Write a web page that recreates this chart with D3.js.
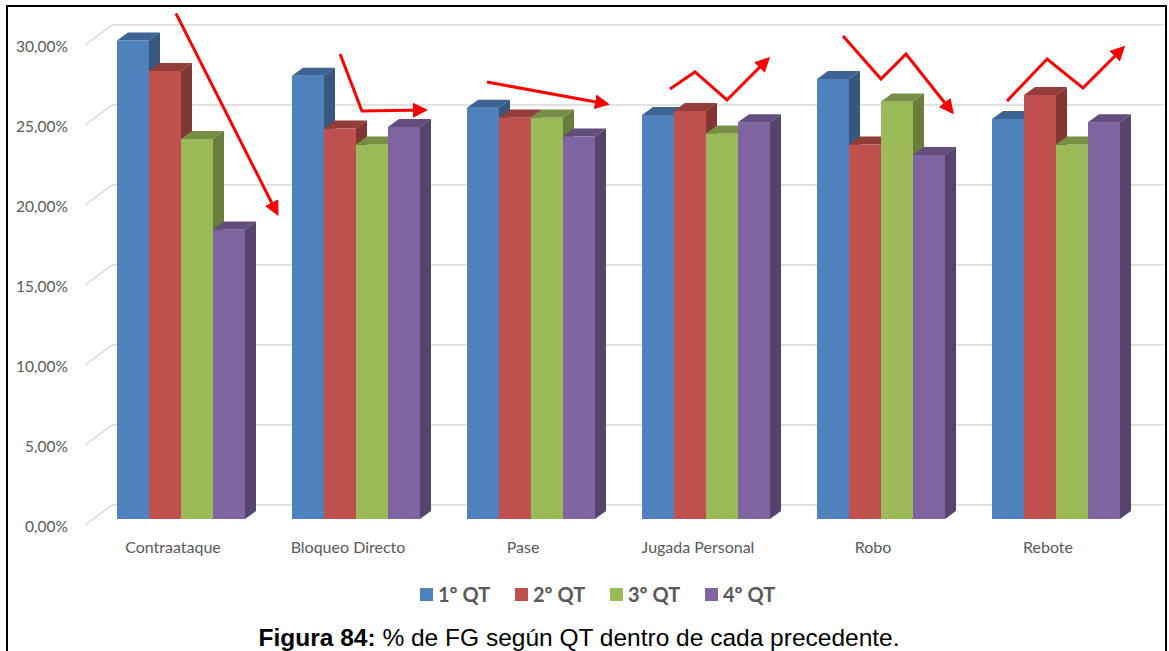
<!DOCTYPE html>
<html><head><meta charset="utf-8">
<script src="https://cdn.jsdelivr.net/npm/d3@7"></script>
<style>body{margin:0;background:#fff}svg{display:block}</style>
</head><body>
<svg id="c" width="1169" height="651"></svg>
<script>
const categories = ["Contraataque","Bloqueo Directo","Pase","Jugada Personal","Robo","Rebote"];
const seriesNames = ["1º QT","2º QT","3º QT","4º QT"];
const q1 = [29.9, 27.7, 25.7, 25.25, 27.5, 25.0];
const q2 = [28.0, 24.4, 25.1, 25.5, 23.4, 26.5];
const q3 = [23.75, 23.4, 25.1, 24.1, 26.1, 23.4];
const q4 = [18.1, 24.5, 23.9, 24.8, 22.75, 24.8];
const yTicks = [0,5,10,15,20,25,30];
const tickLabels = ["0,00%","5,00%","10,00%","15,00%","20,00%","25,00%","30,00%"];
const colors = ["#4f81bd","#c0504d","#9bbb59","#8064a2"];
// annotation arrows: [fraction of category step, value %]
const arrows = [
  {cat:0, pts:[[0.471,31.6],[1.049,19.1]]},
  {cat:1, pts:[[0.409,29.06],[0.534,25.5],[0.894,25.56]]},
  {cat:2, pts:[[0.249,27.31],[0.934,25.94]]},
  {cat:3, pts:[[0.294,26.875],[0.437,27.94],[0.620,26.19],[0.854,28.75]]},
  {cat:4, pts:[[0.283,30.19],[0.5,27.5],[0.643,29.06],[0.906,25.44]]},
  {cat:5, pts:[[0.22,26.125],[0.449,28.75],[0.654,26.94],[0.883,29.44]]}
];
const values = [q1,q2,q3,q4];

const svg = d3.select("#c");
const x0 = d3.scaleBand().domain(categories).range([93.5,1143.5]).paddingInner(0.2686).paddingOuter(0.1343);
const x1 = d3.scaleBand().domain(seriesNames).range([0, x0.bandwidth()]);
const y = d3.scaleLinear().domain([0,30]).range([519,39]);
const dX = 11, dY = -8;      // bar depth
const wX = 27, wY = -14;     // back wall offset

// frame
svg.append("rect").attr("x",7).attr("y",6).attr("width",1159).attr("height",660)
  .attr("fill","none").attr("stroke","#000").attr("stroke-width",2);

// gridlines on back wall
const g = svg.append("g");
yTicks.forEach((t,i)=>{
  const yy = y(t);
  g.append("line").attr("x1",112).attr("x2",1164).attr("y1",yy+wY).attr("y2",yy+wY)
    .attr("stroke","#d9d9d9").attr("stroke-width",1.5);
  g.append("line").attr("x1",85).attr("y1",yy+6).attr("x2",112).attr("y2",yy+wY)
    .attr("stroke","#d9d9d9").attr("stroke-width",1.5);
  g.append("text").attr("x",68).attr("y",yy+13).attr("text-anchor","end")
    .attr("font-family","Lato, 'Open Sans', sans-serif").attr("font-size",15.5)
    .attr("fill","#595959").text(tickLabels[i]);
});

// bars
const bars = svg.append("g");
categories.forEach((c,ci)=>{
  seriesNames.forEach((s,si)=>{
    const v = values[si][ci];
    const xl = x0(c)+x1(s), w = x1.bandwidth();
    const yt = y(v), yb = y(0);
    const col = d3.color(colors[si]);
    bars.append("rect").attr("x",xl).attr("y",yt).attr("width",w).attr("height",yb-yt)
      .attr("fill",colors[si]);
    bars.append("path").attr("d",`M${xl},${yt}L${xl+dX},${yt+dY}L${xl+w+dX},${yt+dY}L${xl+w},${yt}Z`)
      .attr("fill",col.darker(0.75));
    bars.append("path").attr("d",`M${xl+w},${yt}L${xl+w+dX},${yt+dY}L${xl+w+dX},${yb+dY}L${xl+w},${yb}Z`)
      .attr("fill",col.darker(1.1));
  });
  svg.append("text").attr("x",x0(c)+x0.bandwidth()/2-8).attr("y",553)
    .attr("text-anchor","middle").attr("font-family","Lato, 'Open Sans', sans-serif")
    .attr("font-size",16).attr("fill","#595959").text(c);
});

// arrows
svg.append("defs").append("marker").attr("id","ah").attr("viewBox","0 0 10 10")
  .attr("refX",8).attr("refY",5).attr("markerWidth",5).attr("markerHeight",5)
  .attr("markerUnits","strokeWidth").attr("orient","auto")
  .append("path").attr("d","M0,0L10,5L0,10Z").attr("fill","#ff0000");
const step = x0.step();
const line = d3.line();
arrows.forEach(a=>{
  const start = x0(categories[a.cat]) - x0.paddingOuter()*step;
  const pts = a.pts.map(p=>[start + p[0]*step, y(p[1])]);
  svg.append("path").attr("d",line(pts)).attr("fill","none").attr("stroke","#ff0000")
    .attr("stroke-width",3).attr("marker-end","url(#ah)");
});

// legend
const lg = svg.append("g");
seriesNames.forEach((s,i)=>{
  const lx = 420 + i*95;
  lg.append("rect").attr("x",lx).attr("y",588).attr("width",13).attr("height",13).attr("fill",colors[i]);
  lg.append("text").attr("x",lx+18).attr("y",602).attr("font-family","Lato, 'Open Sans', sans-serif")
    .attr("font-weight","bold").attr("font-size",20).attr("fill","#595959").text(s);
});

// caption
const cap = svg.append("text").attr("x",579).attr("y",646).attr("text-anchor","middle")
  .attr("font-family","'Liberation Sans', Arial, sans-serif").attr("font-size",24.5).attr("fill","#000");
cap.append("tspan").attr("font-weight","bold").text("Figura 84:");
cap.append("tspan").text(" % de FG según QT dentro de cada precedente.");
</script>
</body></html>
